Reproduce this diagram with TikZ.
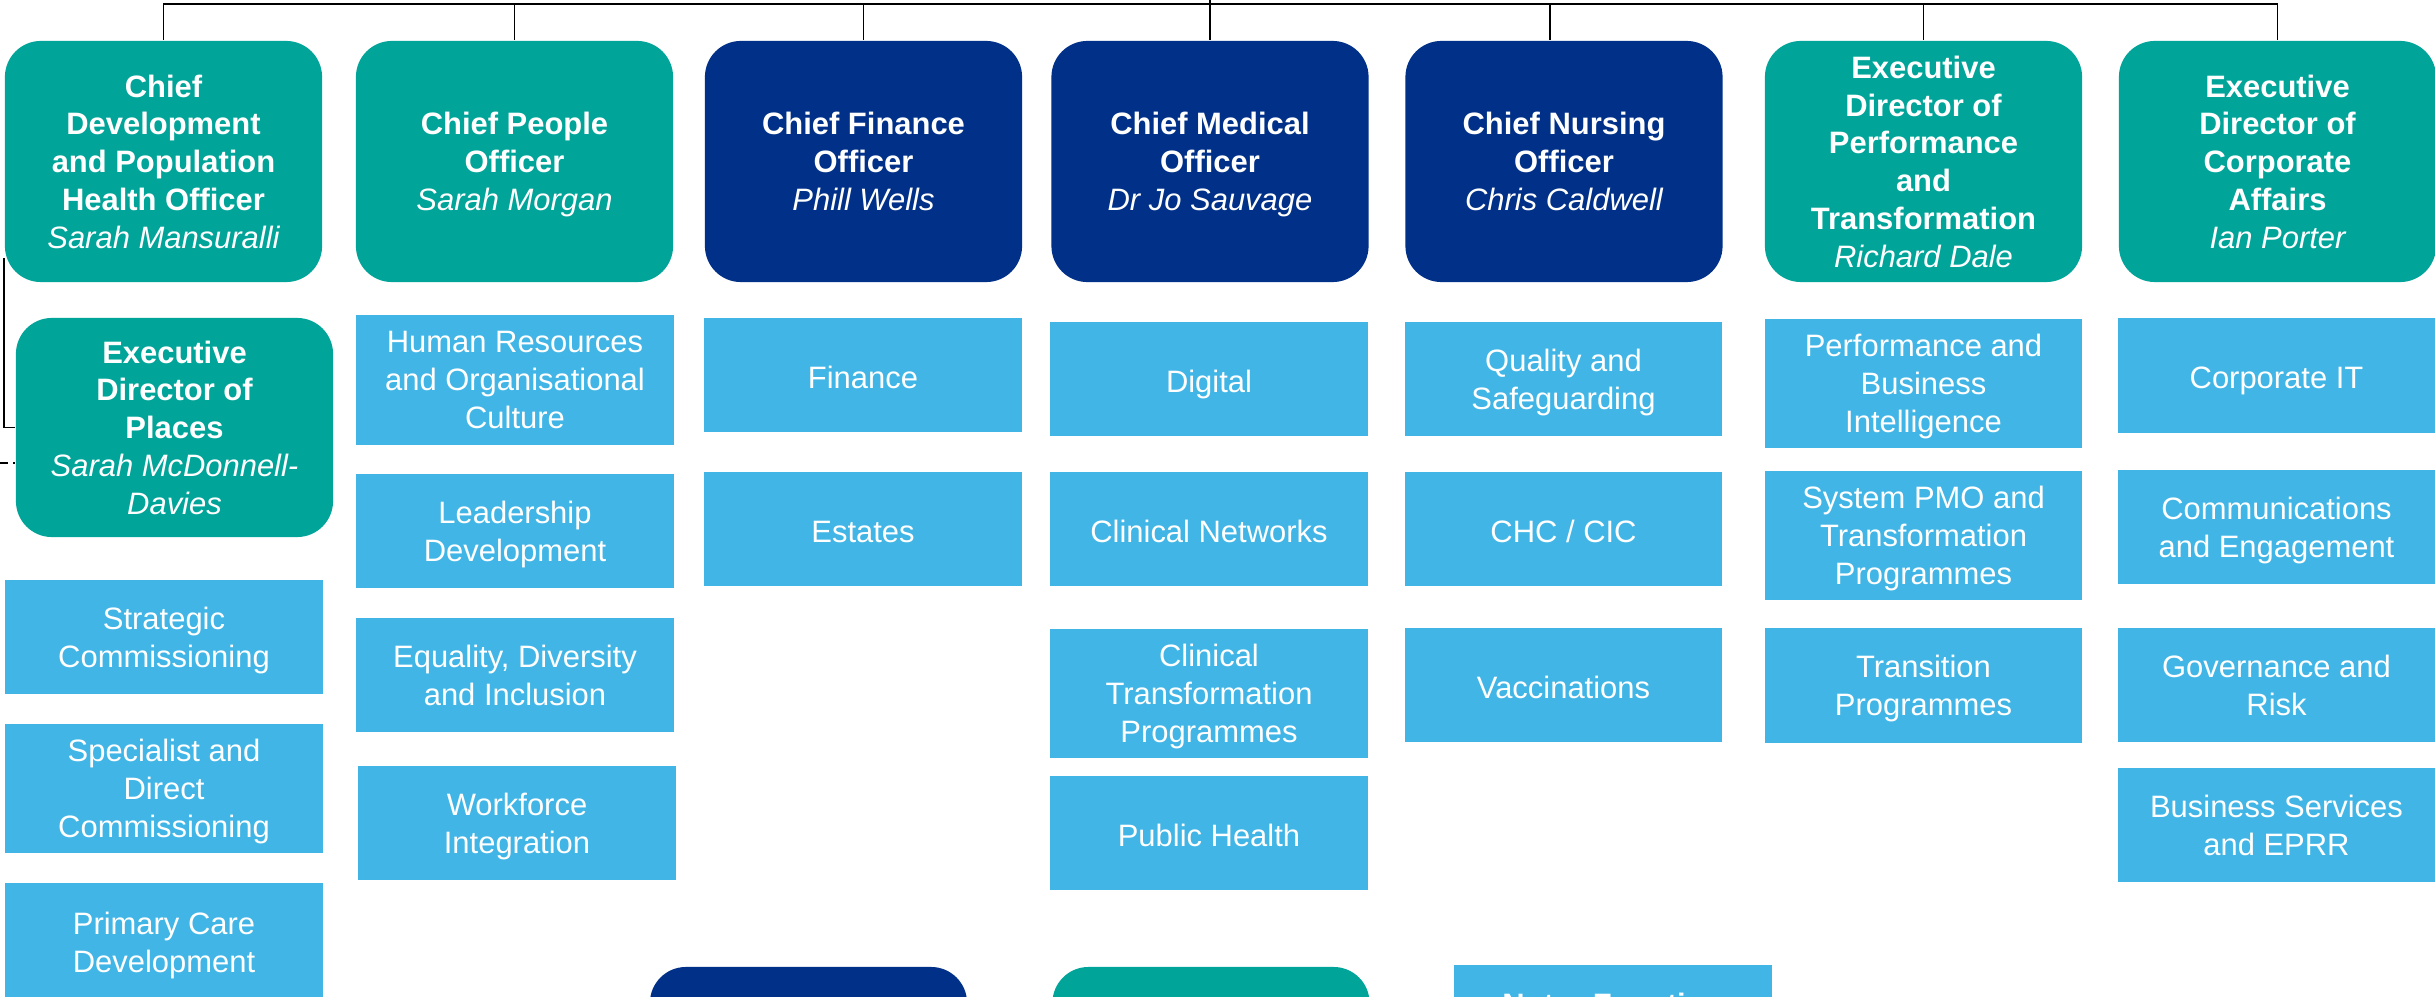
\documentclass[tikz,border=0pt]{standalone}
\usepackage{fontspec}
\setmainfont{Liberation Sans}
\usepackage{tikz}
\definecolor{nhsteal}{HTML}{00A499}
\definecolor{nhsnavy}{HTML}{003087}
\definecolor{nhslight}{HTML}{41B6E6}
\newcommand{\offname}[1]{{\normalfont\itshape #1}}
\tikzset{every node/.style={text=white,align=center,inner sep=0pt,minimum width=3.17cm,font=\fontsize{8.8}{10.75}\selectfont,execute at begin node=\strut,text depth=0pt}}
\tikzset{lead/.style={rounded corners=0.36cm,minimum height=2.41cm,font=\fontsize{8.8}{10.75}\selectfont\bfseries}}
\tikzset{leadt/.style={lead,fill=nhsteal}}
\tikzset{leadn/.style={lead,fill=nhsnavy}}
\tikzset{func/.style={rectangle,fill=nhslight,minimum height=1.14cm}}
\tikzset{functall/.style={func,minimum height=1.29cm}}

\begin{document}
\begin{tikzpicture}[x=0.01cm,y=-0.01cm,line width=0.5pt]
      \useasboundingbox (0,0) rectangle (2435,997);
      \clip (0,0) rectangle (2435,997);
      \node[leadt] (O1) at (163.5,161.5) {Chief\\Development\\and Population\\Health Officer\\\offname{Sarah Mansuralli}};
      \node[leadt] (O2) at (514.5,161.5) {Chief People\\Officer\\\offname{Sarah Morgan}};
      \node[leadn] (O3) at (863.5,161.5) {Chief Finance\\Officer\\\offname{Phill Wells}};
      \node[leadn] (O4) at (1210,161.5) {Chief Medical\\Officer\\\offname{Dr Jo Sauvage}};
      \node[leadn] (O5) at (1564,161.5) {Chief Nursing\\Officer\\\offname{Chris Caldwell}};
      \node[leadt] (O6) at (1923.5,161.5) {Executive\\Director of\\Performance\\and\\Transformation\\\offname{Richard Dale}};
      \node[leadt] (O7) at (2277.5,161.5) {Executive\\Director of\\Corporate\\Affairs\\\offname{Ian Porter}};
      \node[leadt,minimum height=2.19cm] (P) at (174.5,427.5) {Executive\\Director of\\Places\\\offname{Sarah McDonnell-}\\\offname{Davies}};
      \node[func] (A1) at (164,637) {Strategic\\Commissioning};
      \node[functall] (A2) at (164,788.5) {Specialist and\\Direct\\Commissioning};
      \node[func,minimum height=1.18cm] (A3) at (164,942) {Primary Care\\Development};
      \node[functall] (B1) at (515,380) {Human Resources\\and Organisational\\Culture};
      \node[func] (B2) at (515,531) {Leadership\\Development};
      \node[func] (B3) at (515,675) {Equality, Diversity\\and Inclusion};
      \node[func] (B4) at (517,823) {Workforce\\Integration};
      \node[func] (C1) at (863,375) {Finance};
      \node[func] (C2) at (863,529) {Estates};
      \node[func] (D1) at (1209,379) {Digital};
      \node[func] (D2) at (1209,529) {Clinical Networks};
      \node[functall] (D3) at (1209,693.5) {Clinical\\Transformation\\Programmes};
      \node[func] (D4) at (1209,833) {Public Health};
      \node[func] (E1) at (1563.5,379) {Quality and\\Safeguarding};
      \node[func] (E2) at (1563.5,529) {CHC / CIC};
      \node[func] (E3) at (1563.5,685) {Vaccinations};
      \node[functall] (G1) at (1923.5,383.5) {Performance and\\Business\\Intelligence};
      \node[functall] (G2) at (1923.5,535.5) {System PMO and\\Transformation\\Programmes};
      \node[func] (G3) at (1923.5,685.5) {Transition\\Programmes};
      \node[func] (H1) at (2276.5,375.5) {Corporate IT};
      \node[func] (H2) at (2276.5,527) {Communications\\and Engagement};
      \node[func] (H3) at (2276.5,685) {Governance and\\Risk};
      \node[func] (H4) at (2276.5,825) {Business Services\\and EPRR};
      \node[leadn,minimum height=1.14cm] (K1) at (808.5,1024) {};
      \node[leadt,minimum height=1.14cm] (K2) at (1211,1024) {};
      \node[func] (K3) at (1613,1022) {};
      \node[anchor=north,font=\fontsize{8.8}{10.75}\selectfont\bfseries] (note) at (1613,988) {Note: Function};
      \coordinate (root) at (1210,0);
      \coordinate (bus) at (1210,4);
      \coordinate (lft) at (0,463);
      \draw (root) -- (O4.north);
      \draw (O1.north |- bus) -- (O7.north |- bus);
      \foreach \b/\d in {O1/0,O2/0,O3/0,O5/-14,O6/0,O7/0}
        \draw (bus) -| ([xshift=\d*0.01cm]\b.north);
      \draw ([yshift=0.25cm]O1.south west) |- (P.west);
      \draw[dash pattern=on 0.08cm off 0.05cm] (lft) -- (P.west |- lft);
\end{tikzpicture}
\end{document}
